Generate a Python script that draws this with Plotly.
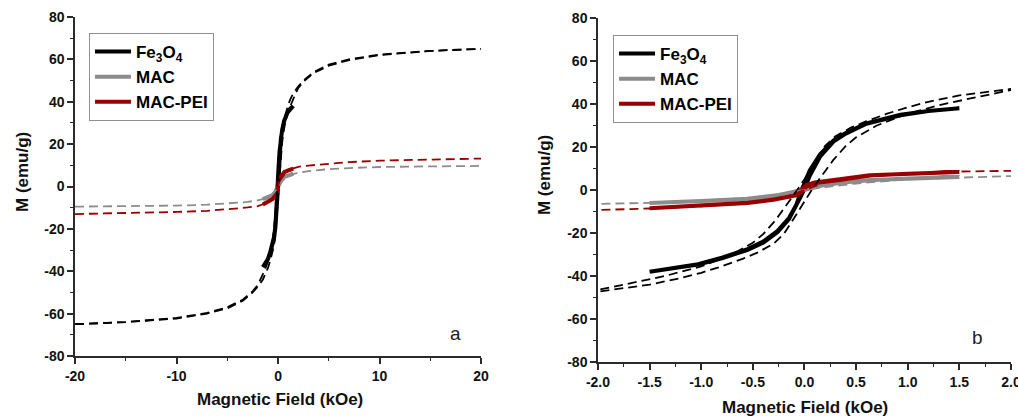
import plotly.graph_objects as go

# ---- Measured hysteresis loops (H in kOe, M in emu/g) ----
fe_desc_h = [1.5, 1.2, 0.93, 0.6, 0.4, 0.28, 0.15, 0.05, 0.0, -0.03, -0.08, -0.15, -0.26, -0.4, -0.55, -0.8, -1.03, -1.3, -1.5]
fe_desc_m = [38.0, 36.8, 35.0, 31.0, 26.5, 23.0, 16.5, 9.0, 3.0, 0.0, -7.0, -13.0, -19.0, -24.0, -27.5, -31.5, -34.5, -36.5, -38.0]
fe_asc_h = [-1.5, -1.3, -1.03, -0.8, -0.55, -0.4, -0.26, -0.15, -0.08, -0.03, 0.0, 0.05, 0.15, 0.28, 0.4, 0.6, 0.93, 1.2, 1.5]
fe_asc_m = [-38.0, -36.6, -34.7, -31.8, -27.8, -24.5, -19.5, -13.5, -7.5, -2.5, 0.5, 6.5, 15.5, 22.5, 26.2, 30.8, 34.8, 36.7, 38.0]

mac_desc_h = [1.5, 1.0, 0.63, 0.4, 0.18, 0.1, 0.0, -0.1, -0.25, -0.55, -1.0, -1.5]
mac_desc_m = [6.0, 5.4, 4.6, 3.8, 2.4, 1.7, 0.6, -0.8, -2.3, -4.1, -5.1, -5.9]
mac_asc_h = [-1.5, -1.0, -0.55, -0.25, -0.1, 0.0, 0.1, 0.18, 0.4, 0.63, 1.0, 1.5]
mac_asc_m = [-6.0, -5.3, -4.3, -2.6, -1.2, 0.0, 1.4, 2.2, 3.6, 4.5, 5.3, 6.0]

pei_desc_h = [1.5, 1.0, 0.63, 0.34, 0.1, 0.02, -0.06, -0.1, -0.3, -0.55, -1.0, -1.5]
pei_desc_m = [8.4, 7.7, 6.9, 5.0, 3.5, 2.3, -1.5, -2.6, -4.4, -5.9, -7.2, -8.4]
pei_asc_h = [-1.5, -1.0, -0.55, -0.3, -0.1, -0.06, 0.02, 0.1, 0.34, 0.63, 1.0, 1.5]
pei_asc_m = [-8.5, -7.3, -6.0, -4.6, -2.9, -2.3, 1.6, 3.2, 4.7, 6.7, 7.6, 8.4]

# ---- Fitted curves over the full field range (both listed in increasing H) ----
# upper branch of the Fe3O4 fit loop (field sweeping down)
fe_fit_upper_h = [-20, -15, -10, -7, -5, -3.5, -2.5, -2.0, -1.7, -1.35, -1.0, -0.7, -0.5, -0.4, -0.28, -0.15, -0.07, 0.0, 0.1, 0.2, 0.3, 0.45, 0.6, 0.8, 1.0, 1.2, 1.5, 2.0, 2.5, 3.5, 5, 7, 10, 15, 20]
fe_fit_upper_m = [-65.0, -64.0, -62.0, -59.7, -57.0, -53.5, -49.5, -46.5, -43.5, -40.0, -35.5, -30.0, -24.5, -20.5, -14.0, -5.5, 0.0, 5.0, 13.0, 20.5, 25.0, 29.0, 32.0, 35.5, 38.5, 41.0, 44.0, 47.3, 50.0, 54.0, 57.5, 60.0, 62.3, 64.0, 65.0]
# lower branch of the Fe3O4 fit loop (field sweeping up)
fe_fit_lower_h = [-20, -15, -10, -7, -5, -3.5, -2.5, -2.0, -1.5, -1.2, -1.0, -0.8, -0.6, -0.45, -0.3, -0.2, -0.1, 0.0, 0.07, 0.15, 0.28, 0.4, 0.5, 0.7, 1.0, 1.35, 1.7, 2.0, 2.5, 3.5, 5, 7, 10, 15, 20]
fe_fit_lower_m = [-65.0, -64.0, -62.3, -60.0, -57.5, -54.0, -50.0, -47.3, -44.0, -41.0, -38.5, -35.5, -32.0, -29.0, -25.0, -20.5, -13.0, -5.0, 0.0, 5.5, 14.0, 20.5, 24.5, 30.0, 35.5, 40.0, 43.5, 46.5, 49.5, 53.5, 57.0, 59.7, 62.0, 64.0, 65.0]

mac_fit_h = [-20, -15, -10, -7, -5, -3, -2, -1.5, -1, -0.5, -0.2, 0, 0.2, 0.5, 1, 1.5, 2, 3, 5, 7, 10, 15, 20]
mac_fit_m = [-9.5, -9.3, -9.0, -8.6, -8.1, -7.3, -6.5, -6.0, -5.0, -3.5, -1.8, 0.0, 1.4, 3.0, 5.0, 5.9, 6.5, 7.3, 8.2, 8.7, 9.2, 9.5, 9.7]

pei_fit_h = [-20, -15, -10, -7, -5, -3, -2, -1.5, -1, -0.5, -0.2, 0, 0.2, 0.5, 1, 1.5, 2, 3, 5, 7, 10, 15, 20]
pei_fit_m = [-13.0, -12.6, -12.0, -11.5, -10.8, -9.9, -9.3, -8.6, -7.6, -6.0, -3.5, 0.0, 3.5, 6.0, 7.6, 8.6, 9.3, 9.9, 10.8, 11.5, 12.2, 12.8, 13.2]

sample_names = ["Fe<sub>3</sub>O<sub>4</sub>", "MAC", "MAC-PEI"]
sample_colors = ["#000000", "#8c8c8c", "#990000"]
panel_labels = ["a", "b"]

# ---- Tick labels ----
m_ticks = [-80, -60, -40, -20, 0, 20, 40, 60, 80]
m_ticktext = ["-80", "-60", "-40", "-20", "0", "20", "40", "60", "80"]
wide_h_ticks = [-20, -10, 0, 10, 20]
wide_h_ticktext = ["-20", "-10", "0", "10", "20"]
narrow_h_ticks = [-2.0, -1.5, -1.0, -0.5, 0.0, 0.5, 1.0, 1.5, 2.0]
narrow_h_ticktext = ["-2.0", "-1.5", "-1.0", "-0.5", "0.0", "0.5", "1.0", "1.5", "2.0"]

FONT = "Liberation Sans, Arial, sans-serif"
AXIS_COLOR = "#2b2b2b"

measured = [
    (fe_desc_h + fe_asc_h, fe_desc_m + fe_asc_m),
    (mac_desc_h + mac_asc_h, mac_desc_m + mac_asc_m),
    (pei_desc_h + pei_asc_h, pei_desc_m + pei_asc_m),
]
fitted = [
    (fe_fit_upper_h, fe_fit_upper_m, sample_colors[0]),
    (fe_fit_lower_h, fe_fit_lower_m, sample_colors[0]),
    (mac_fit_h, mac_fit_m, sample_colors[1]),
    (pei_fit_h, pei_fit_m, sample_colors[2]),
]

fig = go.Figure()

panels = [("x", "y", "legend"), ("x2", "y2", "legend2")]
for xa, ya, lg in panels:
    for (h, m), name, col in zip(measured, sample_names, sample_colors):
        fig.add_trace(go.Scatter(
            x=h, y=m, mode="lines", name=name, xaxis=xa, yaxis=ya, legend=lg,
            line=dict(color=col, width=4), showlegend=True))
    for h, m, col in fitted:
        fig.add_trace(go.Scatter(
            x=h, y=m, mode="lines", xaxis=xa, yaxis=ya, showlegend=False,
            line=dict(color=col, width=1.8, dash="9px,5px")))

tickfont = dict(family=FONT, size=14, color="#111111", weight="bold")

def base_x(domain, anchor, rng, vals, text, minor):
    return dict(domain=domain, anchor=anchor, range=rng, tickmode="array",
                tickvals=vals, ticktext=text, automargin=False, ticklabeloverflow="allow",
                ticks="outside", ticklen=6, tickwidth=1.5, tickcolor=AXIS_COLOR,
                minor=dict(dtick=minor, tick0=0, ticks="outside", ticklen=3, tickwidth=1.2, tickcolor=AXIS_COLOR),
                showline=True, linewidth=1.5, linecolor=AXIS_COLOR, showgrid=False,
                zeroline=False, tickfont=tickfont, fixedrange=True)

def base_y(domain, anchor):
    return dict(domain=domain, anchor=anchor, range=[-80, 80], tickmode="array",
                tickvals=m_ticks, ticktext=m_ticktext, automargin=False,
                ticks="outside", ticklen=6, tickwidth=1.5, tickcolor=AXIS_COLOR,
                minor=dict(dtick=10, tick0=0, ticks="outside", ticklen=3, tickwidth=1.2, tickcolor=AXIS_COLOR),
                showline=True, linewidth=1.5, linecolor=AXIS_COLOR, showgrid=False,
                zeroline=False, tickfont=tickfont, fixedrange=True)

def mirror_x(over, anchor, rng, dtick):
    return dict(overlaying=over, side="top", anchor=anchor, range=rng, dtick=dtick, tick0=0,
                ticks="inside", ticklen=4, tickwidth=1.2, tickcolor=AXIS_COLOR, automargin=False,
                showticklabels=False, showline=True, linewidth=1.5, linecolor=AXIS_COLOR,
                showgrid=False, zeroline=False, fixedrange=True)

def mirror_y(over, anchor):
    return dict(overlaying=over, side="right", anchor=anchor, range=[-80, 80], dtick=10, tick0=0,
                ticks="inside", ticklen=5, tickwidth=1.2, tickcolor=AXIS_COLOR, automargin=False,
                showticklabels=False, showline=True, linewidth=1.5, linecolor=AXIS_COLOR,
                showgrid=False, zeroline=False, fixedrange=True)

legend_style = dict(bgcolor="rgba(255,255,255,0)", bordercolor="#8f8f8f", borderwidth=1,
                    font=dict(family=FONT, size=17, color="#000000", weight="bold"),
                    xanchor="left", yanchor="top", tracegroupgap=0, itemclick=False,
                    itemwidth=36)

title_font = dict(family=FONT, size=17, color="#111111", weight="bold")
label_font = dict(family=FONT, size=19, color="#222222")

fig.update_layout(
    width=1018, height=417,
    margin=dict(l=0, r=0, t=0, b=0, autoexpand=False),
    paper_bgcolor="white", plot_bgcolor="white",
    xaxis=base_x([0.0737, 0.4725], "y", [-20, 20], wide_h_ticks, wide_h_ticktext, 5),
    yaxis=base_y([0.1463, 0.9592], "x"),
    xaxis2=base_x([0.5874, 0.9931], "y2", [-2, 2], narrow_h_ticks, narrow_h_ticktext, 0.25),
    yaxis2=base_y([0.1319, 0.9568], "x2"),
    xaxis3=mirror_x("x", "y", [-20, 20], 5),
    yaxis3=mirror_y("y", "x"),
    xaxis4=mirror_x("x2", "y2", [-2, 2], 0.25),
    yaxis4=mirror_y("y2", "x2"),
    legend=legend_style | dict(x=0.0874, y=0.9209),
    legend2=legend_style | dict(x=0.6022, y=0.9161),
    showlegend=True,
    annotations=[
        dict(text="Magnetic Field (kOe)", x=0.2746, y=0.0408, xref="paper", yref="paper",
             showarrow=False, font=title_font, xanchor="center", yanchor="middle"),
        dict(text="Magnetic Field (kOe)", x=0.7903, y=0.0216, xref="paper", yref="paper",
             showarrow=False, font=title_font, xanchor="center", yanchor="middle"),
        dict(text="M (emu/g)", x=0.0216, y=0.5875, xref="paper", yref="paper", textangle=-90,
             showarrow=False, font=title_font, xanchor="center", yanchor="middle"),
        dict(text="M (emu/g)", x=0.5344, y=0.5803, xref="paper", yref="paper", textangle=-90,
             showarrow=False, font=title_font, xanchor="center", yanchor="middle"),
        dict(text=panel_labels[0], x=0.4479, y=0.2014, xref="paper", yref="paper",
             showarrow=False, font=label_font, xanchor="center", yanchor="middle"),
        dict(text=panel_labels[1], x=0.9607, y=0.1918, xref="paper", yref="paper",
             showarrow=False, font=label_font, xanchor="center", yanchor="middle"),
    ],
)

fig.write_html("out.html")
